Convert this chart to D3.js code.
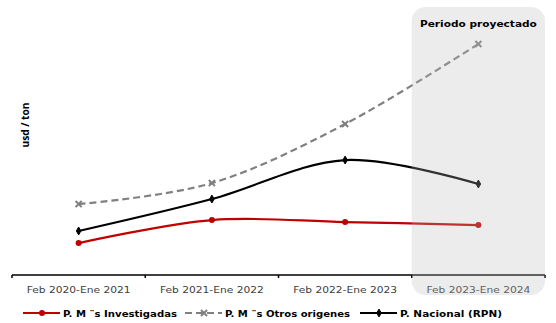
<!DOCTYPE html>
<html>
<head>
<meta charset="utf-8">
<script src="https://cdn.jsdelivr.net/npm/d3@7"></script>
<style>
  body { margin: 0; background: #fff; }
  svg { display: block; }
</style>
</head>
<body>
<div id="chart"></div>
<script>
var periods = ["Feb 2020-Ene 2021", "Feb 2021-Ene 2022", "Feb 2022-Ene 2023", "Feb 2023-Ene 2024"];
var investigadas = [172, 296, 285, 269];
var otrosOrigenes = [382, 495, 813, 1244];
var nacional = [237, 409, 619, 490];
var seriesNames = ["P. M ¨s Investigadas", "P. M ¨s Otros origenes", "P. Nacional (RPN)"];
var projectedLabel = "Periodo proyectado";
var yLabel = "usd / ton";

var width = 556, height = 323;
var font = "'DejaVu Sans', sans-serif";

var svg = d3.select("#chart").append("svg").attr("width", width).attr("height", height);

var x = d3.scaleBand().domain(periods).range([12, 545]);
var y = d3.scaleLinear().domain([0, 1400]).range([275, 15]);
var cx = d => x(d) + x.bandwidth() / 2;

var series = [
	{ name: seriesNames[0], values: investigadas, color: "#c00000", dash: null, marker: "circle" },
	{ name: seriesNames[1], values: otrosOrigenes, color: "#808080", dash: "7,4", marker: "x" },
	{ name: seriesNames[2], values: nacional, color: "#000000", dash: null, marker: "diamond" }
];

// y axis title
svg.append("text")
	.attr("transform", "translate(29,125) rotate(-90)")
	.attr("text-anchor", "middle")
	.attr("textLength", 45)
	.attr("lengthAdjust", "spacingAndGlyphs")
	.style("font-family", "'Open Sans', sans-serif")
	.style("font-weight", "bold")
	.style("font-size", "10.5px")
	.style("fill", "#000")
	.text(yLabel);

// x axis
var xAxis = svg.append("g").attr("transform", "translate(0,275)");
xAxis.append("line").attr("x1", 12).attr("x2", 545).attr("stroke", "#000").attr("stroke-width", 1.5);
xAxis.selectAll(".tick-mark")
	.data(periods.concat([null]))
	.enter().append("line")
	.attr("x1", (d, i) => i < periods.length ? x(d) : 545)
	.attr("x2", (d, i) => i < periods.length ? x(d) : 545)
	.attr("y1", 0).attr("y2", 3)
	.attr("stroke", "#000").attr("stroke-width", 1.5);
xAxis.selectAll(".cat")
	.data(periods)
	.enter().append("text")
	.attr("x", d => cx(d))
	.attr("y", 18)
	.attr("text-anchor", "middle")
	.attr("textLength", 104)
	.attr("lengthAdjust", "spacingAndGlyphs")
	.style("font-family", font)
	.style("font-size", "9px")
	.style("fill", "#404040")
	.text(d => d);

// lines
var line = d3.line()
	.x((d, i) => cx(periods[i]))
	.y(d => y(d))
	.curve(d3.curveCatmullRom.alpha(0));

function drawMarker(g, type, color, px, py) {
	if (type === "circle") {
		g.append("circle").attr("cx", px).attr("cy", py).attr("r", 3).attr("fill", color);
	} else if (type === "diamond") {
		g.append("path").attr("d", d3.symbol().type(d3.symbolDiamond).size(18)())
			.attr("transform", "translate(" + px + "," + py + ")").attr("fill", color)
			.attr("stroke", color).attr("stroke-width", 1);
	} else {
		g.append("path").attr("d", d3.symbol().type(d3.symbolX).size(26)())
			.attr("transform", "translate(" + px + "," + py + ")")
			.attr("fill", "none").attr("stroke", color).attr("stroke-width", 2);
	}
}

var plot = svg.append("g");
series.forEach(s => {
	plot.append("path")
		.attr("d", line(s.values))
		.attr("fill", "none")
		.attr("stroke", s.color)
		.attr("stroke-width", 2.2)
		.attr("stroke-dasharray", s.dash);
	s.values.forEach((v, i) => drawMarker(plot, s.marker, s.color, cx(periods[i]), y(v)));
});

// projected period shading, drawn over the marks
var last = periods[periods.length - 1];
svg.append("rect")
	.attr("x", x(last))
	.attr("y", 7)
	.attr("width", x.bandwidth())
	.attr("height", 288)
	.attr("rx", 14)
	.attr("fill", "rgb(185,185,185)")
	.attr("fill-opacity", 0.27);
svg.append("text")
	.attr("x", cx(last))
	.attr("y", 27)
	.attr("text-anchor", "middle")
	.attr("textLength", 117)
	.attr("lengthAdjust", "spacingAndGlyphs")
	.style("font-family", font)
	.style("font-weight", "bold")
	.style("font-size", "9.5px")
	.style("fill", "#000")
	.text(projectedLabel);

// legend
var legendX = [23, 185, 360];
var legendW = [114, 125, 102];
var legend = svg.append("g").attr("transform", "translate(0,313)");
series.forEach((s, i) => {
	var g = legend.append("g");
	var x0 = legendX[i];
	g.append("line").attr("x1", x0).attr("x2", x0 + 37).attr("y1", 0).attr("y2", 0)
		.attr("stroke", s.color).attr("stroke-width", 2.2).attr("stroke-dasharray", s.dash);
	drawMarker(g, s.marker, s.color, x0 + 19, 0);
	g.append("text")
		.attr("x", x0 + 40)
		.attr("y", 3.5)
		.attr("textLength", legendW[i])
		.attr("lengthAdjust", "spacingAndGlyphs")
		.style("font-family", font)
		.style("font-weight", "bold")
		.style("font-size", "9.5px")
		.style("fill", "#000")
		.text(s.name);
});
</script>
</body>
</html>
